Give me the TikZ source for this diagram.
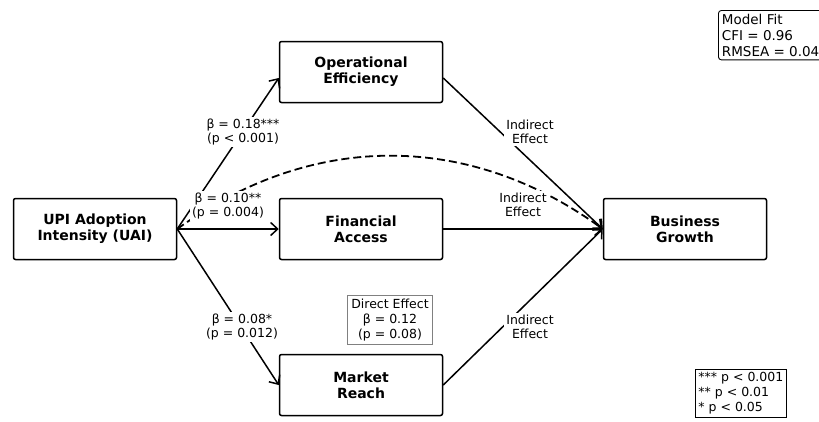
\documentclass[tikz,border=0pt]{standalone}
\usepackage{fontspec}
\setmainfont{DejaVu Sans}
\usetikzlibrary{arrows.meta}

\begin{document}
\begin{tikzpicture}[x=1pt,y=-1pt,
  box/.style={draw, rounded corners=2pt, line width=1.5pt,
    minimum width=163pt, minimum height=61pt, align=center,
    font=\fontsize{14}{16}\selectfont\bfseries},
  link/.style={line width=1.5pt, -{Straight Barb[length=7pt,width=13pt]}},
  coef/.style={fill=white, inner sep=2pt, align=center,
    font=\fontsize{12.5}{14.5}\selectfont},
  note/.style={draw, line width=0.9pt, align=left, inner sep=3pt,
    font=\fontsize{12.5}{15}\selectfont}]
\useasboundingbox (0,0) rectangle (819,421);

% constructs
\node[box] (uai) at (95,229) {UPI Adoption\\Intensity (UAI)};
\node[box] (oe) at (361,72) {Operational\\Efficiency};
\node[box] (fa) at (361,229) {Financial\\Access};
\node[box] (mr) at (361,385) {Market\\Reach};
\node[box] (bg) at (685,229) {Business\\Growth};

% paths
\draw[link] (uai.east) -- ([yshift=-6pt]oe.west);
\draw[link] (uai.east) -- (fa.west);
\draw[link] (uai.east) -- (mr.west);
\draw[link] ([yshift=-6pt]oe.east) -- (bg.west);
\draw[link] (fa.east) -- (bg.west);
\draw[link] (mr.east) -- (bg.west);
\draw[link, line width=1.8pt, dash pattern=on 8pt off 4pt]
  (uai.east) to[bend left=36] (bg.west);

% coefficients
\node[coef] (a1) at (243,132) {β = 0.18***\\(p < 0.001)};
\node[coef] (a2) at (228,206) {β = 0.10**\\(p = 0.004)};
\node[coef] (a3) at (242,327) {β = 0.08*\\(p = 0.012)};
\node[coef] (b1) at (530,132) {Indirect\\Effect};
\node[coef] (b2) at (523,205) {Indirect\\Effect};
\node[coef] (b3) at (530,327) {Indirect\\Effect};
\node[note, draw=gray, fill=white, align=center, inner sep=3.5pt] (direct)
  at (390,320) {Direct Effect\\β = 0.12\\(p = 0.08)};

% notes
\node[note, rounded corners=3pt, anchor=north west, inner sep=3.5pt,
  font=\fontsize{13.5}{16}\selectfont] (fit) at (718,10) {Model Fit\\CFI = 0.96\\RMSEA = 0.04};
\node[note, anchor=north west] (sig) at (695,369)
  {*** p < 0.001\\** p < 0.01\\* p < 0.05};
\end{tikzpicture}
\end{document}
